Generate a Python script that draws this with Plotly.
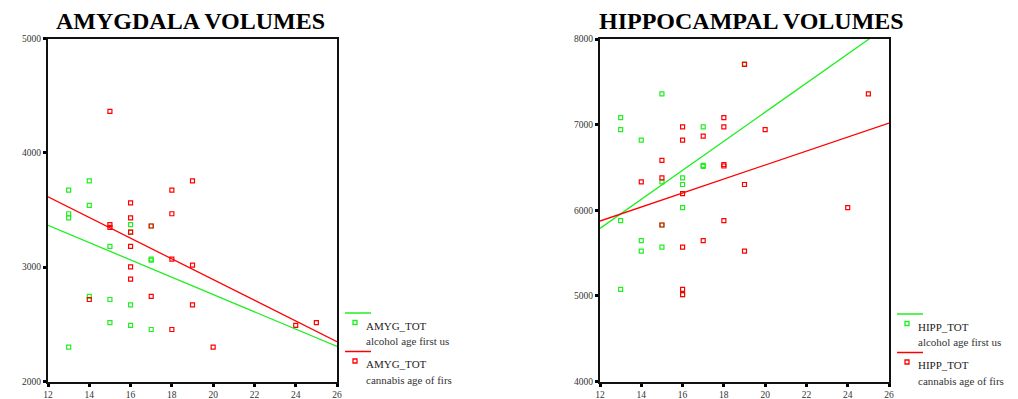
import plotly.graph_objects as go

W, H = 1018, 399

# ---------------- data ----------------
amyg_alc_x = [13, 13, 13, 13, 14, 14, 14, 15, 15, 15, 16, 16, 16, 16, 17, 17, 17, 17]
amyg_alc_y = [3673, 3467, 3431, 2301, 3754, 3540, 2744, 3181, 2717, 2515, 3372, 3306, 2670, 2491, 3071, 3062, 2455, 3360]

amyg_can_x = [15, 18, 19, 16, 16, 16, 16, 16, 16, 15, 15, 17, 17, 18, 18, 18, 19, 19, 14, 20, 24, 25]
amyg_can_y = [4363, 3673, 3754, 3562, 3431, 3306, 3181, 3003, 2896, 3372, 3348, 3360, 2744, 3467, 3071, 2455, 3018, 2670, 2717, 2301, 2491, 2515]

hipp_alc_x = [13, 13, 13, 13, 14, 14, 14, 15, 15, 15, 15, 16, 16, 16, 16, 17, 17, 17, 19]
hipp_alc_y = [7081, 6942, 5878, 5076, 6819, 5645, 5523, 7359, 6332, 5569, 5828, 6378, 6301, 6031, 5015, 6973, 6525, 6513, 7707]

hipp_can_x = [19, 19, 16, 16, 16, 17, 18, 18, 18, 18, 20, 25, 15, 15, 14, 15, 16, 16, 16, 17, 18, 19, 24]
hipp_can_y = [7703, 6301, 6973, 6819, 6193, 6865, 7081, 6973, 6533, 6517, 6942, 7359, 6583, 6378, 6332, 5828, 5569, 5076, 5015, 5645, 5878, 5523, 6031]

# fitted regression lines, evaluated at the ends of the x range
fit_x = [12, 26]
amyg_alc_fit = [3366, 2307]
amyg_can_fit = [3616, 2348]
hipp_alc_fit = [5788, 8164]
hipp_can_fit = [5874, 7019]

x_ticks = [12, 14, 16, 18, 20, 22, 24, 26]
amyg_ticks = [2000, 3000, 4000, 5000]
hipp_ticks = [4000, 5000, 6000, 7000, 8000]

titles = ["AMYGDALA VOLUMES", "HIPPOCAMPAL VOLUMES"]
legend_names = [["AMYG_TOT", "alcohol age first us", "AMYG_TOT", "cannabis age of firs"],
                ["HIPP_TOT", "alcohol age first us", "HIPP_TOT", "cannabis age of firs"]]

GREEN = "#22ee22"
RED = "#ff0000"
SERIF = "Liberation Serif, Times New Roman, serif"


def px(x):
    return x / W


def py(y):
    return 1 - y / H


fig = go.Figure()

panels = [
    ("x", "y", amyg_alc_x, amyg_alc_y, amyg_can_x, amyg_can_y, amyg_alc_fit, amyg_can_fit),
    ("x2", "y2", hipp_alc_x, hipp_alc_y, hipp_can_x, hipp_can_y, hipp_alc_fit, hipp_can_fit),
]
for xa, ya, ax, ay, cx, cy, af, cf in panels:
    fig.add_trace(go.Scatter(x=ax, y=ay, mode="markers", xaxis=xa, yaxis=ya, showlegend=False,
                             marker=dict(symbol="square-open", size=4, color=GREEN, line=dict(width=1.2, color=GREEN))))
    fig.add_trace(go.Scatter(x=cx, y=cy, mode="markers", xaxis=xa, yaxis=ya, showlegend=False,
                             marker=dict(symbol="square-open", size=4, color=RED, line=dict(width=1.2, color=RED))))
    fig.add_trace(go.Scatter(x=fit_x, y=af, mode="lines", xaxis=xa, yaxis=ya, showlegend=False,
                             line=dict(color=GREEN, width=1.3), cliponaxis=True))
    fig.add_trace(go.Scatter(x=fit_x, y=cf, mode="lines", xaxis=xa, yaxis=ya, showlegend=False,
                             line=dict(color=RED, width=1.3), cliponaxis=True))

axis_common = dict(showgrid=False, zeroline=False, showline=True, linecolor="#111", linewidth=2,
                   mirror=True, ticks="outside", ticklen=3, tickwidth=3, tickcolor="#000",
                   automargin=False,
                   tickfont=dict(family=SERIF, size=9.5, color="#333"))

fig.update_layout(
    width=W, height=H, autosize=False,
    margin=dict(l=0, r=0, t=0, b=0, pad=0, autoexpand=False),
    paper_bgcolor="white", plot_bgcolor="white",
    showlegend=False,
    xaxis=dict(domain=[px(48), px(337)], range=[12, 26], tickvals=x_ticks, anchor="y", **axis_common),
    yaxis=dict(domain=[py(381.5), py(38.5)], range=[2000, 5000], tickvals=amyg_ticks, anchor="x", **axis_common),
    xaxis2=dict(domain=[px(600), px(889)], range=[12, 26], tickvals=x_ticks, anchor="y2", **axis_common),
    yaxis2=dict(domain=[py(381.5), py(39)], range=[4000, 8000], tickvals=hipp_ticks, anchor="x2", **axis_common),
)

annotations = []
shapes = []
# titles
for t, cx in zip(titles, [190, 751]):
    annotations.append(dict(text=t, x=px(cx), y=py(21), xref="paper", yref="paper",
                            xanchor="center", yanchor="middle", showarrow=False,
                            font=dict(family=SERIF, size=24, color="#000", weight="bold")))

# legends
for names, lx, ly0 in zip(legend_names, [345, 897], [313, 314]):
    for k, color in enumerate([GREEN, RED]):
        base = ly0 + k * 38.5
        shapes.append(dict(type="line", xref="paper", yref="paper",
                           x0=px(lx), x1=px(lx + 26), y0=py(base), y1=py(base),
                           line=dict(color=color, width=1.5)))
        shapes.append(dict(type="rect", xref="paper", yref="paper",
                           x0=px(lx + 8), x1=px(lx + 12), y0=py(base + 7.5), y1=py(base + 11.5),
                           line=dict(color=color, width=1.3), fillcolor="white"))
        annotations.append(dict(text=names[2 * k], x=px(lx + 19), y=py(base + 12.5), xref="paper", yref="paper",
                                xanchor="left", yanchor="middle", showarrow=False,
                                font=dict(family=SERIF, size=11, color="#222")))
        annotations.append(dict(text=names[2 * k + 1], x=px(lx + 19), y=py(base + 28), xref="paper", yref="paper",
                                xanchor="left", yanchor="middle", showarrow=False,
                                font=dict(family=SERIF, size=11, color="#333")))

fig.update_layout(annotations=annotations, shapes=shapes)
fig.write_html("out.html", config={"responsive": False, "displayModeBar": False},
               post_script="document.body.style.margin='0';document.body.style.overflow='hidden';")
